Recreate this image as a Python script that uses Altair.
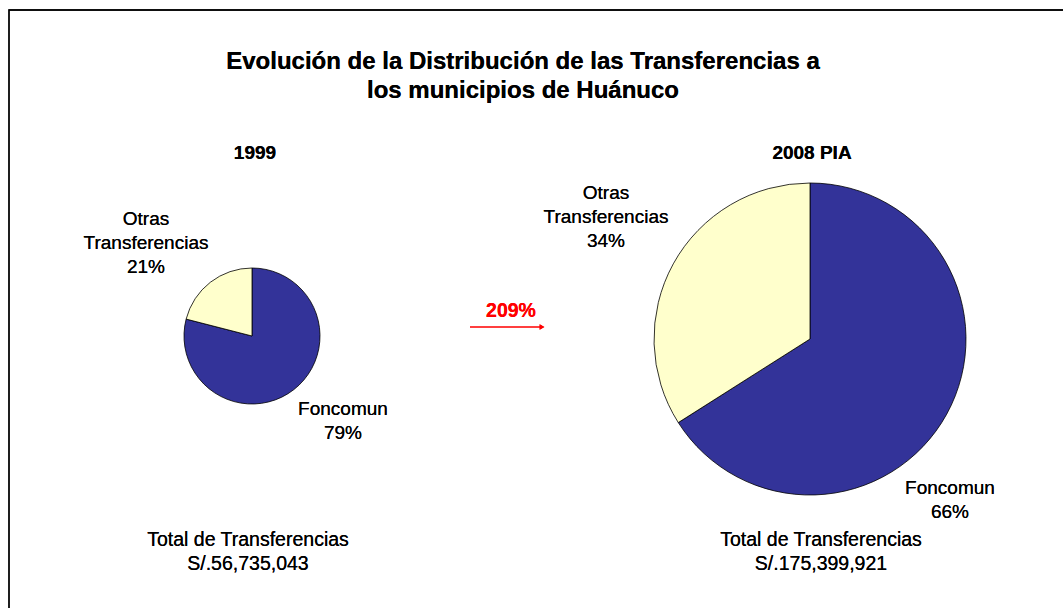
import altair as alt
import pandas as pd

# ---- data ----
categories = ["Foncomun", "Otras Transferencias"]
pct_1999 = [79, 21]
pct_2008 = [66, 34]
panel_titles = ["1999", "2008 PIA"]
totals = ["S/.56,735,043", "S/.175,399,921"]
total_label = "Total de Transferencias"
growth_label = "209%"
title_lines = ["Evolución de la Distribución de las Transferencias a",
               "los municipios de Huánuco"]
colors = ["#333399", "#FFFFCC"]

FONT = "Liberation Sans"
W, H = 1063, 608

df1 = pd.DataFrame({"category": categories, "value": pct_1999, "idx": [0, 1]})
df2 = pd.DataFrame({"category": categories, "value": pct_2008, "idx": [0, 1]})

color_scale = alt.Scale(domain=categories, range=colors)


def pie(df, cx, cy, r):
    return alt.Chart(df).mark_arc(radius=r, stroke="black", strokeWidth=0.8).encode(
        theta=alt.Theta("value:Q", stack=True),
        color=alt.Color("category:N", scale=color_scale, legend=None),
        order=alt.Order("idx:Q"),
        x=alt.value(cx),
        y=alt.value(cy),
    )


def txt(lines, cx, cy, size=19, bold=False, color="black", lh=24):
    return alt.Chart(df1).mark_text(
        font=FONT, fontSize=size, fontWeight="bold" if bold else "normal",
        align="center", baseline="middle", lineHeight=lh, color=color,
    ).encode(x=alt.value(cx), y=alt.value(cy), text=alt.value(lines))


border = alt.Chart(df1).mark_rect(
    fillOpacity=0, stroke="black", strokeWidth=1.3
).encode(x=alt.value(9), x2=alt.value(1100), y=alt.value(10), y2=alt.value(700))

other_words = categories[1].split(" ")

layers = [
    border,
    pie(df1, 252, 336, 68),
    pie(df2, 810, 339, 156),
    txt(title_lines, 523, 62, size=24, bold=True, lh=29),
    txt([panel_titles[0]], 255, 153, size=19, bold=True),
    txt([panel_titles[1]], 812, 153, size=19, bold=True),
    txt(other_words + [f"{pct_1999[1]}%"], 146, 219),
    txt([categories[0], f"{pct_1999[0]}%"], 343, 409),
    txt(other_words + [f"{pct_2008[1]}%"], 606, 193),
    txt([categories[0], f"{pct_2008[0]}%"], 950, 488),
    txt([total_label, totals[0]], 248, 540, size=19.5),
    txt([total_label, totals[1]], 821, 540, size=19.5),
    txt([growth_label], 511, 311, size=19.5, bold=True, color="#FF0000"),
    alt.Chart(df1).mark_rule(color="#FF0000", strokeWidth=1.2).encode(
        x=alt.value(470), x2=alt.value(540), y=alt.value(327)
    ),
    alt.Chart(df1).mark_point(shape="triangle-right", filled=True, color="#FF0000",
                              size=30, opacity=1).encode(
        x=alt.value(542), y=alt.value(327)
    ),
]

chart = alt.layer(*layers).resolve_scale(theta="independent").properties(
    width=W, height=H, autosize=alt.AutoSizeParams(type="none"), padding=0
).configure_view(stroke=None)

chart.save("out.html", embed_options={"renderer": "svg", "actions": False})
